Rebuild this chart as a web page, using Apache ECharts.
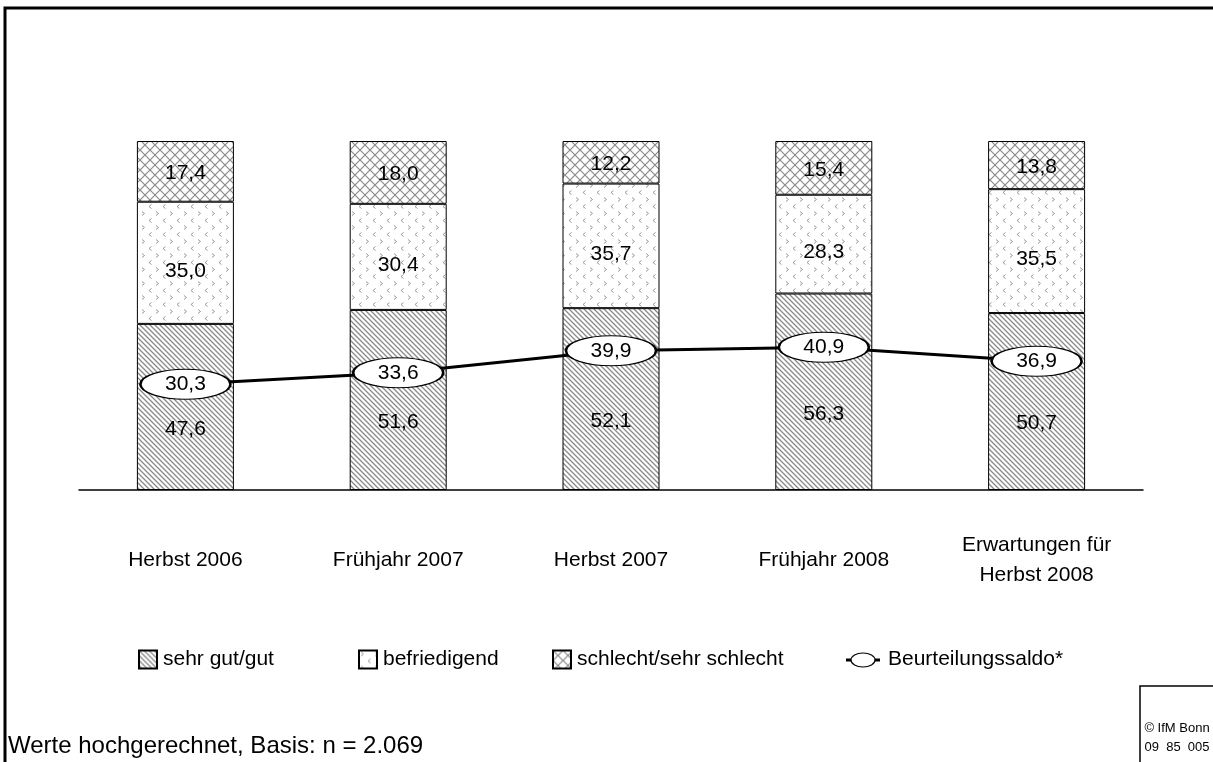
<!DOCTYPE html>
<html>
<head>
<meta charset="utf-8">
<title>Beurteilung</title>
<script src="https://cdn.jsdelivr.net/npm/echarts@6/dist/echarts.min.js"></script>
<style>
  html, body { margin: 0; padding: 0; background: #fff; }
  #chart { width: 1213px; height: 762px; }
</style>
</head>
<body>
<div id="chart"></div>
<script>
// Daten
var kategorien = ['Herbst 2006', 'Frühjahr 2007', 'Herbst 2007', 'Frühjahr 2008', 'Erwartungen für\nHerbst 2008'];
var sehrGutGut = [47.6, 51.6, 52.1, 56.3, 50.7];
var befriedigend = [35.0, 30.4, 35.7, 28.3, 35.5];
var schlecht = [17.4, 18.0, 12.2, 15.4, 13.8];
var saldo = [30.3, 33.6, 39.9, 40.9, 36.9];

var schrift = 'Arial, "Liberation Sans", sans-serif';
var gross = 21;

// Muster fuer die Balken
function muster(size, draw) {
    var c = document.createElement('canvas');
    c.width = size;
    c.height = size;
    var ctx = c.getContext('2d');
    ctx.fillStyle = '#fff';
    ctx.fillRect(0, 0, size, size);
    draw(ctx, size);
    return { image: c, repeat: 'repeat' };
}

var schraffur = muster(5, function (ctx, s) {
    ctx.strokeStyle = '#8a8a8a';
    ctx.lineWidth = 1.3;
    ctx.beginPath();
    ctx.moveTo(-1, -1); ctx.lineTo(s + 1, s + 1);
    ctx.moveTo(-1, s - 1); ctx.lineTo(1, s + 1);
    ctx.moveTo(s - 1, -1); ctx.lineTo(s + 1, 1);
    ctx.stroke();
});

var pfeile = muster(14, function (ctx) {
    ctx.strokeStyle = '#999';
    ctx.lineWidth = 1;
    ctx.beginPath();
    // ">"
    ctx.moveTo(2, 1.5); ctx.lineTo(4.5, 3.5); ctx.lineTo(2, 5.5);
    // "<"
    ctx.moveTo(11.5, 8.5); ctx.lineTo(9, 10.5); ctx.lineTo(11.5, 12.5);
    ctx.stroke();
});

var gitter = muster(10, function (ctx, s) {
    ctx.strokeStyle = '#8a8a8a';
    ctx.lineWidth = 1.2;
    ctx.beginPath();
    ctx.moveTo(0, 0); ctx.lineTo(s, s);
    ctx.moveTo(s, 0); ctx.lineTo(0, s);
    ctx.stroke();
});

function komma(p) {
    return p.value.toFixed(1).replace('.', ',');
}

var chart = echarts.init(document.getElementById('chart'));

var balkenLabel = {
    show: true,
    position: 'inside',
    color: '#000',
    fontSize: gross,
    fontFamily: schrift,
    formatter: komma
};

function legende(name, left) {
    return {
        data: [{ name: name, icon: 'rect' }],
        left: left,
        top: 644,
        itemWidth: 18,
        itemHeight: 18,
        selectedMode: false,
        textStyle: { fontSize: gross, fontFamily: schrift, color: '#000', padding: [0, 0, 0, 1] }
    };
}

chart.setOption({
    animation: false,
    backgroundColor: '#fff',
    grid: { left: 79, right: 70, top: 141, bottom: 272 },
    legend: [
        legende('sehr gut/gut', 133),
        legende('befriedigend', 353),
        legende('schlecht/sehr schlecht', 547)
    ],
    xAxis: {
        type: 'category',
        data: kategorien,
        axisLine: { lineStyle: { color: '#000', width: 1.5 } },
        axisTick: { show: false },
        axisLabel: {
            color: '#000',
            fontSize: gross,
            fontFamily: schrift,
            margin: 70,
            verticalAlign: 'middle',
            lineHeight: 30,
            interval: 0
        }
    },
    yAxis: {
        type: 'value',
        min: 0,
        max: 100,
        show: false
    },
    series: [
        {
            name: 'sehr gut/gut',
            type: 'bar',
            stack: 'gesamt',
            barWidth: 97,
            data: sehrGutGut,
            itemStyle: { color: schraffur, borderColor: '#000', borderWidth: 1 },
            label: Object.assign({}, balkenLabel, { offset: [0, 22] })
        },
        {
            name: 'befriedigend',
            type: 'bar',
            stack: 'gesamt',
            data: befriedigend,
            itemStyle: { color: pfeile, borderColor: '#000', borderWidth: 1 },
            label: Object.assign({}, balkenLabel, { offset: [0, 8] })
        },
        {
            name: 'schlecht/sehr schlecht',
            type: 'bar',
            stack: 'gesamt',
            data: schlecht,
            itemStyle: { color: gitter, borderColor: '#000', borderWidth: 1 },
            label: Object.assign({}, balkenLabel, { offset: [0, 2] })
        },
        {
            name: 'Beurteilungssaldo*',
            type: 'line',
            z: 5,
            data: saldo,
            symbol: 'path://M0,15 A45,15 0 1,1 90,15 A45,15 0 1,1 0,15 Z',
            symbolSize: [90, 30],
            lineStyle: { color: '#000', width: 3 },
            itemStyle: { color: '#fff', borderColor: '#000', borderWidth: 1.5 },
            label: {
                show: true,
                position: 'inside',
                color: '#000',
                fontSize: gross,
                fontFamily: schrift,
                formatter: komma
            }
        }
    ],
    graphic: [
        // Rahmen
        {
            type: 'polyline',
            shape: { points: [[5, 770], [5, 8], [1220, 8]] },
            style: { stroke: '#000', lineWidth: 3, fill: null }
        },
        // Legende Linie
        {
            type: 'line',
            shape: { x1: 846, y1: 660, x2: 880, y2: 660 },
            style: { stroke: '#000', lineWidth: 3 }
        },
        {
            type: 'ellipse',
            shape: { cx: 863, cy: 660, rx: 12, ry: 7 },
            style: { fill: '#fff', stroke: '#000', lineWidth: 1.2 }
        },
        {
            type: 'text',
            left: 888,
            top: 649,
            style: { text: 'Beurteilungssaldo*', font: gross + 'px ' + schrift, fill: '#000' }
        },
        // Fussnote
        {
            type: 'text',
            left: 8,
            top: 734,
            style: { text: 'Werte hochgerechnet, Basis: n = 2.069', font: '24px ' + schrift, fill: '#000' }
        },
        // Copyright-Kasten
        {
            type: 'polyline',
            shape: { points: [[1140, 770], [1140, 686], [1220, 686]] },
            style: { stroke: '#000', lineWidth: 1.5, fill: null }
        },
        {
            type: 'text',
            x: 1177,
            y: 719,
            style: {
                text: '© IfM Bonn\n09  85  005',
                font: '13px ' + schrift,
                fill: '#000',
                align: 'center',
                lineHeight: 19
            }
        }
    ]
});
</script>
</body>
</html>
